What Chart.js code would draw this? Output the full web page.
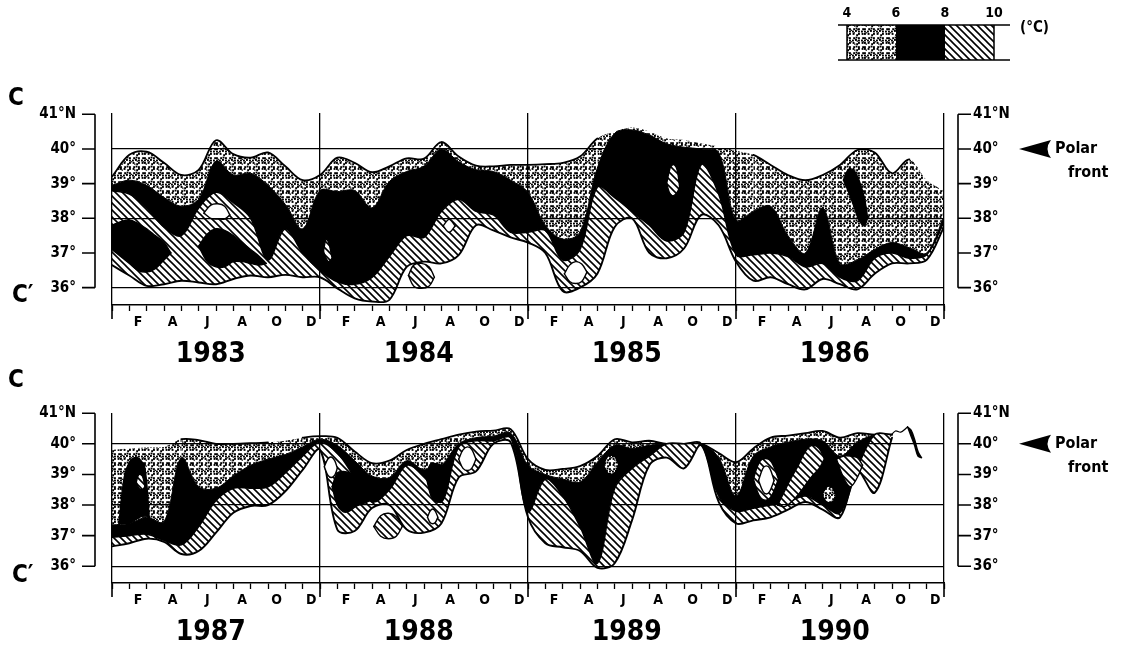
<!DOCTYPE html>
<html><head><meta charset="utf-8">
<script src="https://cdn.jsdelivr.net/npm/chart.js@4.4.1/dist/chart.umd.min.js"></script>
<style>
html,body{margin:0;padding:0;background:#fff;width:1122px;height:654px;overflow:hidden}
.wrap{position:absolute;left:0;width:1122px}
#w1{top:0;height:368px}
#w2{top:368px;height:286px}
canvas{display:block}
</style></head><body>
<div class="wrap" id="w1"><canvas id="c1" width="1122" height="368"></canvas></div>
<div class="wrap" id="w2"><canvas id="c2" width="1122" height="286"></canvas></div>
<script>
// ---------- categories / labels ----------
const monthsAxis = [0,1,2,3,4,5,6,7,8,9,10,11,12,13,14,15,16,17,18,19,20,21,22,23,24,25,26,27,28,29,30,31,32,33,34,35,36,37,38,39,40,41,42,43,44,45,46,47,48];
const monthLetters = ['F','A','J','A','O','D'];
const yearsTop = ['1983','1984','1985','1986'];
const yearsBottom = ['1987','1988','1989','1990'];
const yearLabelMonth = [5.7, 17.7, 29.7, 41.7];
const yearBoundaries = [0, 12, 24, 36, 48];
const latTicks = [36, 37, 38, 39, 40, 41];
const latLabels = ['36°', '37°', '38°', '39°', '40°', '41°N'];
const gridLats = [36, 38, 40];
const legendTemps = ['4', '6', '8', '10'];

// ---------- top panel (1983-1986): latitude of isotherms ----------
const top4C = [39.2, 39.83, 39.92, 39.6, 39.25, 39.4, 40.25, 39.85, 39.75, 39.9, 39.5, 39.1, 39.25,
  39.75, 39.6, 39.33, 39.5, 39.73, 39.72, 40.2, 39.78, 39.52, 39.5, 39.54, 39.54,
  39.56, 39.6, 39.78, 40.3, 40.5, 40.62, 40.5, 40.3, 40.26, 40.16, 40.07, 39.95,
  39.83, 39.54, 39.25, 39.1, 39.25, 39.54, 39.97, 39.9, 39.3, 39.7, 39.1, 38.8];
const top6C = [38.95, 39.1, 38.95, 38.6, 38.35, 38.55, 39.65, 39.25, 39.3, 38.95, 38.4, 37.7, 38.8,
  38.77, 38.8, 38.3, 39.06, 39.35, 39.5, 40.0, 39.63, 39.4, 39.35, 39.1, 38.75,
  37.8, 37.4, 37.6, 39.45, 40.45, 40.55, 40.4, 40.15, 40.05, 40.0, 39.9, 37.95,
  38.2, 38.35, 37.5, 37.0, 38.3, 36.7, 36.8, 37.1, 37.3, 37.15, 37.0, 38.05];
const top8C = [38.8, 38.7, 38.3, 37.75, 37.5, 38.3, 38.75, 38.45, 38.0, 36.8, 37.7, 37.0, 36.5,
  36.17, 36.1, 36.3, 36.9, 37.5, 37.45, 38.2, 38.55, 38.2, 38.1, 37.6, 37.6,
  37.65, 36.8, 37.1, 38.9, 38.6, 38.2, 37.8, 37.35, 37.6, 39.55, 38.7, 36.95,
  36.95, 37.0, 36.9, 36.6, 36.7, 36.3, 36.2, 36.85, 37.0, 36.85, 36.95, 37.9];
const top10C = [36.65, 36.35, 36.05, 36.1, 36.2, 36.15, 36.1, 36.25, 36.35, 36.3, 36.37, 36.3, 36.3,
  35.98, 35.69, 35.6, 35.65, 36.6, 36.75, 36.7, 36.94, 37.8, 37.65, 37.45, 37.3,
  37.0, 35.9, 36.0, 36.4, 37.75, 38.0, 37.0, 36.85, 37.13, 38.1, 37.8, 36.75,
  36.2, 36.3, 36.1, 35.95, 36.25, 36.1, 35.95, 36.4, 36.7, 36.7, 36.8, 37.75];

// top panel patches (months, upper lat, lower lat)
const t83BlackM = [0, 0.5, 1, 1.5, 2, 2.5, 3, 3.4];
const t83BlackHi = [37.8, 37.9, 37.95, 37.85, 37.7, 37.5, 37.3, 37.0];
const t83BlackLo = [37.1, 36.9, 36.7, 36.5, 36.45, 36.55, 36.8, 37.0];
const t83WhiteM = [5.3, 5.7, 6.1, 6.5, 6.8];
const t83WhiteHi = [38.15, 38.38, 38.42, 38.35, 38.1];
const t83WhiteLo = [38.15, 38.0, 37.98, 37.98, 38.1];
const t83Black2M = [5.0, 5.5, 6, 6.5, 7, 7.5, 8, 8.5, 8.9];
const t83Black2Hi = [37.2, 37.55, 37.7, 37.65, 37.5, 37.3, 37.1, 36.9, 36.7];
const t83Black2Lo = [37.2, 36.75, 36.6, 36.6, 36.75, 36.75, 36.7, 36.65, 36.7];
const t84HatchM = [12.2, 12.35, 12.5, 12.7];
const t84HatchHi = [37.05, 37.4, 37.3, 36.85];
const t84HatchLo = [37.05, 36.85, 36.75, 36.85];
const t84Hatch2M = [17.1, 17.4, 17.85, 18.3, 18.6];
const t84Hatch2Hi = [36.35, 36.65, 36.7, 36.6, 36.3];
const t84Hatch2Lo = [36.35, 36.05, 35.98, 36.05, 36.3];
const t84WhiteM = [19.1, 19.45, 19.8];
const t84WhiteHi = [37.78, 37.97, 37.78];
const t84WhiteLo = [37.78, 37.6, 37.78];
const t85WhiteM = [26.1, 26.4, 26.75, 27.1, 27.4];
const t85WhiteHi = [36.4, 36.65, 36.75, 36.68, 36.45];
const t85WhiteLo = [36.4, 36.18, 36.12, 36.18, 36.45];
const t85HatchM = [32.0, 32.2, 32.4, 32.6, 32.75];
const t85HatchHi = [39.0, 39.45, 39.55, 39.4, 38.9];
const t85HatchLo = [39.0, 38.7, 38.65, 38.75, 38.9];
const t86BlackM = [42.2, 42.5, 42.8, 43.1, 43.4, 43.6];
const t86BlackHi = [39.1, 39.42, 39.38, 39.1, 38.6, 38.0];
const t86BlackLo = [39.1, 38.75, 38.35, 37.95, 37.8, 38.0];

// ---------- bottom panel (1987-1990) ----------
const bot4C = [39.8, 39.85, 39.88, 39.9, 40.15, 40.12, 40.0, 40.0, 40.02, 40.05, 40.1, 40.2, 40.25,
  40.2, 39.75, 39.37, 39.45, 39.8, 40.0, 40.15, 40.3, 40.4, 40.43, 40.48, 39.5,
  39.15, 39.18, 39.27, 39.6, 40.15, 40.05, 40.1, 40.0, 40.0, 40.0, 39.7, 39.4,
  39.85, 40.2, 40.27, 40.35, 40.42, 40.2, 40.35, 40.3, 40.3, null, null, null];
const bot6C = [37.35, 37.4, 37.6, 37.45, 39.55, 38.6, 38.55, 38.95, 39.3, 39.5, 39.65, 39.9, 40.15,
  39.95, 39.45, 38.95, 38.9, 39.45, 39.15, 39.3, 40.0, 40.2, 40.25, 40.35, 39.3,
  39.0, 38.85, 38.75, 39.4, 39.95, 39.85, 39.95, 40.0, 40.0, 40.0, 39.55, 38.3,
  39.6, 39.9, 40.05, 40.15, 40.1, 39.6, 40.05, 40.3, 40.3, null, null, null];
const bot8C = [36.95, 37.0, 37.05, 36.85, 36.7, 37.3, 38.15, 38.55, 38.55, 38.6, 39.05, 39.6, 40.05,
  39.7, 38.9, 38.1, 38.5, 39.3, 38.95, 38.1, 39.9, 40.1, 40.1, 40.2, 37.8,
  38.85, 38.3, 37.3, 36.1, 38.55, 39.2, 39.6, 40.0, 40.0, 40.0, 38.3, 37.8,
  37.9, 38.0, 38.1, 38.3, 38.0, 37.75, 39.2, 40.3, 40.3, null, null, null];
const bot10C = [36.65, 36.75, 36.9, 36.8, 36.4, 36.5, 37.1, 37.75, 37.97, 38.0, 38.45, 39.15, 39.8,
  37.2, 37.15, 37.9, 38.0, 37.2, 37.1, 37.4, 38.9, 39.1, 40.0, 40.05, 37.6,
  36.75, 36.62, 36.5, 35.95, 36.1, 37.5, 39.3, 39.55, 39.2, 39.95, 38.1, 37.4,
  37.5, 37.6, 37.85, 38.1, 37.85, 37.6, 39.1, 38.4, 40.2, null, null, null];

const b87BlackM = [0.4, 0.7, 1.0, 1.3, 1.6, 1.9, 2.15];
const b87BlackHi = [37.4, 38.9, 39.4, 39.55, 39.5, 39.2, 37.6];
const b87BlackLo = [37.4, 37.4, 37.4, 37.5, 37.6, 37.65, 37.6];
const b87HatchM = [1.4, 1.55, 1.75, 1.9];
const b87HatchHi = [38.75, 39.0, 38.95, 38.6];
const b87HatchLo = [38.75, 38.55, 38.5, 38.6];
const b88WhiteM = [12.25, 12.45, 12.65, 12.85, 13.0];
const b88WhiteHi = [39.25, 39.5, 39.57, 39.45, 39.2];
const b88WhiteLo = [39.25, 38.98, 38.9, 38.98, 39.2];
const b88BlackM = [12.7, 13.0, 13.35, 13.7, 14.05, 14.5, 14.9];
const b88BlackHi = [38.6, 39.05, 39.1, 39.05, 39.0, 38.7, 38.15];
const b88BlackLo = [38.6, 38.0, 37.78, 37.8, 37.95, 38.05, 38.15];
const b88HatchM = [15.1, 15.5, 15.95, 16.4, 16.75];
const b88HatchHi = [37.3, 37.65, 37.73, 37.62, 37.3];
const b88HatchLo = [37.3, 36.98, 36.9, 36.98, 37.3];
const b88Black2M = [18.1, 18.4, 18.7, 19.0];
const b88Black2Hi = [39.0, 39.35, 39.35, 39.3];
const b88Black2Lo = [39.0, 38.3, 38.1, 38.1];
const b88White2M = [18.2, 18.35, 18.5, 18.65, 18.8];
const b88White2Hi = [37.6, 37.8, 37.87, 37.8, 37.6];
const b88White2Lo = [37.6, 37.43, 37.39, 37.43, 37.6];
const b88White3M = [20.0, 20.25, 20.5, 20.75, 21.0];
const b88White3Hi = [39.5, 39.8, 39.9, 39.82, 39.5];
const b88White3Lo = [39.5, 39.2, 39.13, 39.2, 39.5];
const b89DotsM = [28.4, 28.6, 28.8, 29.0, 29.2];
const b89DotsHi = [39.3, 39.55, 39.6, 39.55, 39.3];
const b89DotsLo = [39.3, 39.08, 39.03, 39.08, 39.3];
const b90RingM = [37.0, 37.35, 37.7, 38.05, 38.45];
const b90RingHi = [38.85, 39.4, 39.52, 39.4, 38.85];
const b90RingLo = [38.85, 38.3, 38.16, 38.3, 38.85];
const b90WhiteM = [37.3, 37.55, 37.75, 37.95, 38.2];
const b90WhiteHi = [38.8, 39.2, 39.28, 39.2, 38.8];
const b90WhiteLo = [38.8, 38.45, 38.36, 38.45, 38.8];
const b90BandM = [38.4, 38.8, 39.2, 39.6, 40.0, 40.4, 40.8, 41.1];
const b90BandHi = [38.0, 38.45, 38.9, 39.3, 39.75, 39.95, 39.85, 39.5];
const b90BandLo = [38.0, 37.95, 38.1, 38.35, 38.65, 38.95, 39.2, 39.5];
const b90Hatch2M = [41.8, 42.2, 42.6, 43.0, 43.3];
const b90Hatch2Hi = [39.5, 39.6, 39.6, 39.55, 39.3];
const b90Hatch2Lo = [39.5, 38.9, 38.6, 38.9, 39.3];
const b90DotsM = [41.0, 41.2, 41.4, 41.6, 41.75];
const b90DotsHi = [38.35, 38.55, 38.6, 38.5, 38.3];
const b90DotsLo = [38.35, 38.15, 38.1, 38.15, 38.3];
const b90TickM = [45.9, 46.1, 46.3, 46.5, 46.7];
const b90TickHi = [40.55, 40.45, 40.15, 39.75, 39.55];
const b90TickLo = [40.55, 40.25, 39.95, 39.6, 39.55];
const b90LoopM = [44.9, 45.2, 45.5, 45.9];
const b90LoopLat = [40.25, 40.42, 40.38, 40.55];

// ---------- patterns ----------
function makeStipple() {
  const n = 8, cell = 3, size = n * cell;
  const c = document.createElement('canvas'); c.width = size; c.height = size;
  const g = c.getContext('2d');
  g.fillStyle = '#fff'; g.fillRect(0, 0, size, size);
  g.fillStyle = '#000';
  for (let i = 0; i < n; i++) for (let j = 0; j < n; j++) {
    const ox = ((i * 7 + j * 3 + i * j) % 3) * 0.6;
    const oy = ((i * 2 + j * 5 + i * i) % 3) * 0.6;
    g.fillRect(i * cell + ox, j * cell + oy, 1.9, 1.9);
    if ((i * j + i + 2 * j) % 4 === 0) g.fillRect(i * cell + ((ox + 1.6) % 3), j * cell + ((oy + 1.5) % 3), 1.3, 1.3);
  }
  return g.createPattern(c, 'repeat');
}
function makeHatch() {
  const s = 7;
  const c = document.createElement('canvas'); c.width = s; c.height = s;
  const g = c.getContext('2d');
  g.fillStyle = '#fff'; g.fillRect(0, 0, s, s);
  g.strokeStyle = '#000'; g.lineWidth = 1.6;
  g.beginPath();
  g.moveTo(-2, -2); g.lineTo(s + 2, s + 2);
  g.moveTo(-2, s - 2); g.lineTo(2, s + 2);
  g.moveTo(s - 2, -2); g.lineTo(s + 2, 2);
  g.stroke();
  return g.createPattern(c, 'repeat');
}
const STIPPLE = makeStipple();
const HATCH = makeHatch();
function fillFor(kind) {
  return kind === 'stipple' ? STIPPLE : kind === 'hatch' ? HATCH : kind === 'black' ? '#000' : '#fff';
}
function pts(ms, vs) { return ms.map((m, i) => ({ x: m, y: vs[i] })); }

function buildDatasets(b4, b6, b8, b10, hiddenRanges, patches, lines) {
  const hide = x => hiddenRanges.some(r => x >= r[0] && x < r[1]);
  let o = 1000;
  const ds = [
    { data: pts(monthsAxis, b4), fill: '+1', backgroundColor: STIPPLE, borderWidth: 1.8, order: o--,
      segment: { borderColor: c => hide(c.p0.parsed.x) ? 'rgba(0,0,0,0)' : '#000' } },
    { data: pts(monthsAxis, b6), fill: '+1', backgroundColor: '#000', borderWidth: 1, order: o-- },
    { data: pts(monthsAxis, b8), fill: '+1', backgroundColor: HATCH, borderWidth: 1.6, order: o-- },
    { data: pts(monthsAxis, b10), fill: false, borderWidth: 1.9, order: o-- }
  ];
  patches.forEach(p => {
    const [ms, hi, lo, kind] = p;
    const bc = kind === 'stipple' ? 'rgba(0,0,0,0)' : '#000';
    ds.push({ data: pts(ms, hi), fill: '+1', backgroundColor: fillFor(kind), borderColor: bc, borderWidth: 1.4, order: o-- });
    ds.push({ data: pts(ms, lo), fill: false, borderColor: bc, borderWidth: 1.4, order: o-- });
  });
  (lines || []).forEach(l => {
    ds.push({ data: pts(l[0], l[1]), fill: false, borderWidth: 1.2, order: o-- });
  });
  ds.forEach(d => { d.xAxisID = 'x'; d.yAxisID = 'y'; d.pointRadius = 0; d.tension = 0.35; if (!d.borderColor) d.borderColor = '#000'; });
  return ds;
}

const FONT = "'DejaVu Sans Condensed', 'DejaVu Sans', 'Liberation Sans', sans-serif";
const halfMonths = Array.from({ length: 97 }, (_, i) => i / 2);
function monthLabel(v) {
  if (Math.abs(v % 1 - 0.5) > 1e-6) return '';
  const mi = Math.floor(v) % 12;
  return mi % 2 === 1 ? monthLetters[(mi - 1) / 2] : '';
}
function latLabel(v) { const i = latTicks.indexOf(v); return i >= 0 ? latLabels[i] : ''; }

function makeDecor(cfg) {
  return {
    id: 'decor',
    afterDraw(chart) {
      const ctx = chart.ctx, ys = chart.scales.y, xs = chart.scales.x, ca = chart.chartArea;
      ctx.save();
      ctx.strokeStyle = '#000'; ctx.fillStyle = '#000'; ctx.lineWidth = 1.6;
      const yT = ys.getPixelForValue(41), yB = ys.getPixelForValue(36);
      ctx.beginPath();
      ctx.moveTo(95, yT); ctx.lineTo(95, yB);
      ctx.moveTo(958, yT); ctx.lineTo(958, yB);
      latTicks.forEach(v => {
        const p = ys.getPixelForValue(v);
        ctx.moveTo(82, p); ctx.lineTo(95, p);
        ctx.moveTo(958, p); ctx.lineTo(971, p);
      });
      yearBoundaries.forEach(v => {
        const p = xs.getPixelForValue(v);
        ctx.moveTo(p, ca.bottom); ctx.lineTo(p, ca.bottom + 14);
      });
      ctx.stroke();
      ctx.textAlign = 'center'; ctx.textBaseline = 'middle';
      ctx.font = 'bold 28px ' + FONT;
      cfg.years.forEach((yr, i) => ctx.fillText(yr, xs.getPixelForValue(yearLabelMonth[i]), ca.bottom + 50));
      ctx.textAlign = 'left';
      ctx.font = 'bold 24px ' + FONT;
      ctx.fillText('C', 8, cfg.cY);
      ctx.fillText('C\u2032', 12, cfg.cpY);
      const p40 = ys.getPixelForValue(40);
      ctx.beginPath();
      ctx.moveTo(1019, p40);
      ctx.lineTo(1051, p40 - 9);
      ctx.quadraticCurveTo(1044, p40, 1051, p40 + 9);
      ctx.closePath(); ctx.fill();
      ctx.font = 'bold 16px ' + FONT;
      ctx.fillText('Polar', 1055, p40);
      ctx.fillText('front', 1068, p40 + 24);
      if (cfg.legend) {
        ctx.lineWidth = 1.5;
        const x0 = 847, w = 49, yTop = 25, yBot = 60;
        ctx.fillStyle = STIPPLE; ctx.fillRect(x0, yTop, w, yBot - yTop);
        ctx.fillStyle = '#000'; ctx.fillRect(x0 + w, yTop, w, yBot - yTop);
        ctx.fillStyle = HATCH; ctx.fillRect(x0 + 2 * w, yTop, w, yBot - yTop);
        ctx.beginPath();
        ctx.moveTo(838, yTop); ctx.lineTo(1010, yTop);
        ctx.moveTo(838, yBot); ctx.lineTo(1010, yBot);
        ctx.moveTo(x0, yTop); ctx.lineTo(x0, yBot);
        ctx.moveTo(x0 + 3 * w, yTop); ctx.lineTo(x0 + 3 * w, yBot);
        ctx.stroke();
        ctx.fillStyle = '#000';
        ctx.font = 'bold 14px ' + FONT; ctx.textAlign = 'center';
        legendTemps.forEach((t, i) => ctx.fillText(t, x0 + i * w, 13));
        ctx.textAlign = 'left'; ctx.font = 'bold 15px ' + FONT;
        ctx.fillText('(°C)', 1020, 28);
      }
      ctx.restore();
    }
  };
}

function makeChart(id, cfg) {
  return new Chart(document.getElementById(id), {
    type: 'line',
    data: { datasets: cfg.datasets },
    options: {
      responsive: false, animation: false, events: [],
      layout: { padding: { top: cfg.padTop, left: 0, right: 0, bottom: 0 } },
      elements: { line: { borderJoinStyle: 'round', borderCapStyle: 'round' }, point: { radius: 0 } },
      plugins: { legend: { display: false }, tooltip: { enabled: false }, filler: { propagate: false } },
      scales: {
        x: {
          type: 'linear', position: 'bottom', min: 0, max: 48,
          afterBuildTicks: s => { s.ticks = halfMonths.map(v => ({ value: v })); },
          afterFit: s => { s.height = cfg.xHeight; },
          ticks: { autoSkip: false, maxRotation: 0, minRotation: 0, padding: 3, color: '#000',
            font: { family: FONT, size: 14, weight: 'bold' }, callback: v => monthLabel(v) },
          grid: { drawOnChartArea: false, drawTicks: true, tickLength: 6, tickWidth: 1.3,
            tickColor: c => (c.tick && Number.isInteger(c.tick.value)) ? '#000' : 'rgba(0,0,0,0)' },
          border: { display: true, color: '#000', width: 1.5 }
        },
        xd: {
          type: 'linear', position: 'bottom', min: 0, max: 48,
          afterBuildTicks: s => { s.ticks = yearBoundaries.map(v => ({ value: v })); },
          afterFit: s => { s.height = 0; },
          ticks: { display: false },
          grid: { drawOnChartArea: true, drawTicks: false, color: '#000', lineWidth: 1.3, z: 1 },
          border: { display: false }
        },
        y: {
          position: 'left', min: cfg.yMin, max: cfg.yMax,
          afterBuildTicks: s => { s.ticks = latTicks.map(v => ({ value: v })); },
          afterFit: s => { s.width = 112; },
          ticks: { autoSkip: false, padding: 36, color: '#000', font: { family: FONT, size: 15, weight: 'bold' },
            callback: v => latLabel(v) },
          grid: { drawTicks: false, lineWidth: 1.3, z: 1,
            color: c => (c.tick && gridLats.includes(c.tick.value)) ? '#000' : 'rgba(0,0,0,0)' },
          border: { display: false }
        },
        y2: {
          position: 'right', min: cfg.yMin, max: cfg.yMax,
          afterBuildTicks: s => { s.ticks = latTicks.map(v => ({ value: v })); },
          afterFit: s => { s.width = 1122 - 944; },
          ticks: { autoSkip: false, padding: 29, color: '#000', font: { family: FONT, size: 15, weight: 'bold' },
            callback: v => latLabel(v) },
          grid: { display: false, drawTicks: false },
          border: { display: false }
        }
      }
    },
    plugins: [makeDecor(cfg)]
  });
}

const topPatches = [
  [t83BlackM, t83BlackHi, t83BlackLo, 'black'],
  [t83WhiteM, t83WhiteHi, t83WhiteLo, 'white'],
  [t83Black2M, t83Black2Hi, t83Black2Lo, 'black'],
  [t84HatchM, t84HatchHi, t84HatchLo, 'hatch'],
  [t84Hatch2M, t84Hatch2Hi, t84Hatch2Lo, 'hatch'],
  [t84WhiteM, t84WhiteHi, t84WhiteLo, 'white'],
  [t85WhiteM, t85WhiteHi, t85WhiteLo, 'white'],
  [t85HatchM, t85HatchHi, t85HatchLo, 'hatch'],
  [t86BlackM, t86BlackHi, t86BlackLo, 'black']
];
const botPatches = [
  [b87BlackM, b87BlackHi, b87BlackLo, 'black'],
  [b87HatchM, b87HatchHi, b87HatchLo, 'hatch'],
  [b88WhiteM, b88WhiteHi, b88WhiteLo, 'white'],
  [b88BlackM, b88BlackHi, b88BlackLo, 'black'],
  [b88HatchM, b88HatchHi, b88HatchLo, 'hatch'],
  [b88Black2M, b88Black2Hi, b88Black2Lo, 'black'],
  [b88White2M, b88White2Hi, b88White2Lo, 'white'],
  [b88White3M, b88White3Hi, b88White3Lo, 'white'],
  [b89DotsM, b89DotsHi, b89DotsLo, 'stipple'],
  [b90RingM, b90RingHi, b90RingLo, 'hatch'],
  [b90WhiteM, b90WhiteHi, b90WhiteLo, 'white'],
  [b90BandM, b90BandHi, b90BandLo, 'hatch'],
  [b90Hatch2M, b90Hatch2Hi, b90Hatch2Lo, 'hatch'],
  [b90DotsM, b90DotsHi, b90DotsLo, 'stipple'],
  [b90TickM, b90TickHi, b90TickLo, 'black']
];

makeChart('c1', {
  datasets: buildDatasets(top4C, top6C, top8C, top10C, [[28, 36.5], [46, 49]], topPatches, []),
  padTop: 113, xHeight: 63, yMin: 35.5, yMax: 41.037,
  years: yearsTop, cY: 99, cpY: 296, legend: true
});
makeChart('c2', {
  datasets: buildDatasets(bot4C, bot6C, bot8C, bot10C, [[0, 4], [9, 11]], botPatches, [[b90LoopM, b90LoopLat]]),
  padTop: 22, xHeight: 71, yMin: 35.453, yMax: 41.007,
  years: yearsBottom, cY: 13, cpY: 208, legend: false
});
</script></body></html>
